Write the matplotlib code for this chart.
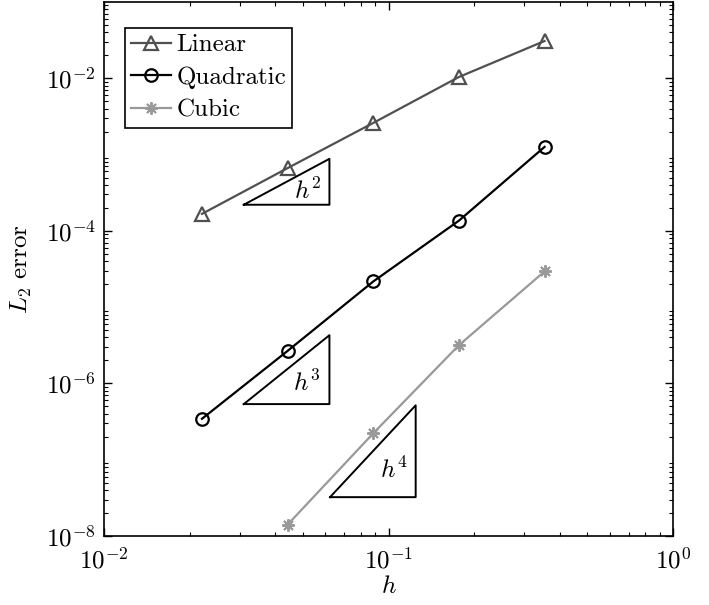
import matplotlib
matplotlib.use("Agg")
import matplotlib.pyplot as plt
import numpy as np

plt.rcParams['font.family'] = 'serif'
plt.rcParams['font.serif'] = ['cmr10']
plt.rcParams['mathtext.fontset'] = 'cm'
plt.rcParams['axes.formatter.use_mathtext'] = True
plt.rcParams['axes.unicode_minus'] = True

h = [0.0221, 0.0442, 0.0884, 0.1768, 0.3536]
err_linear = [1.67e-4, 6.65e-4, 2.6e-3, 1.04e-2, 3.08e-2]
err_quadratic = [3.44e-7, 2.67e-6, 2.17e-5, 1.36e-4, 1.26e-3]
h_cubic = [0.0442, 0.0884, 0.1768, 0.3536]
err_cubic = [1.41e-8, 2.22e-7, 3.17e-6, 2.94e-5]

# slope triangles: (x0, x1, y0, order)
tri_x0 = [0.031, 0.031, 0.0623]
tri_x1 = [0.062, 0.062, 0.1246]
tri_y0 = [2.2e-4, 5.36e-7, 3.23e-8]
tri_order = [2, 3, 4]

fig = plt.figure(figsize=(7.09, 6.05), dpi=100)
ax = fig.add_axes([104/709, 1-536/605, (673-104)/709, (536-2)/605])

fs = 18
ax.loglog(h, err_linear, '-', color='#505050', lw=1.6, marker='^', ms=10,
          mfc='none', mec='#505050', mew=1.6, label='Linear')
ax.loglog(h, err_quadratic, '-', color='black', lw=1.6, marker='o', ms=9,
          mfc='none', mec='black', mew=1.6, label='Quadratic')
ax.loglog(h_cubic, err_cubic, '-', color='#999999', lw=1.6, marker=(8, 2, 0), ms=9,
          mec='#999999', mew=1.4, label='Cubic')

for x0, x1, y0, p in zip(tri_x0, tri_x1, tri_y0, tri_order):
    y1 = y0 * (x1 / x0) ** p
    ax.plot([x0, x1, x1, x0], [y0, y0, y1, y0], color='black', lw=1.4)
    tx = x0 * (x1 / x0) ** 0.74
    ty = y0 * (y1 / y0) ** 0.3
    ax.text(tx, ty, r'$h^{%d}$' % p, fontsize=fs, ha='center', va='center')

ax.set_xlim(1e-2, 1e0)
ax.set_ylim(1e-8, 1e-1)
ax.set_yticks([1e-8, 1e-6, 1e-4, 1e-2])
ax.set_xticks([1e-2, 1e-1, 1e0])
ax.tick_params(which='both', direction='in', top=True, right=True, labelsize=fs)
ax.tick_params(which='major', length=6, width=1)
ax.tick_params(which='minor', length=3, width=0.8)
ax.tick_params(axis='x', which='major', pad=8)
ax.tick_params(axis='y', which='major', pad=6)
for s in ax.spines.values():
    s.set_linewidth(1.2)

ax.set_xlabel(r'$h$', fontsize=fs, labelpad=2)
ax.set_ylabel(r'$L_2$ error', fontsize=fs, labelpad=8)

leg = ax.legend(loc='upper left', bbox_to_anchor=(0.037, 0.952), fontsize=fs,
                fancybox=False, edgecolor='black', framealpha=1,
                handlelength=1.6, handletextpad=0.2, borderpad=0.25,
                labelspacing=0.4, borderaxespad=0)
leg.get_frame().set_linewidth(1.2)

fig.savefig('out.png', dpi=100)
